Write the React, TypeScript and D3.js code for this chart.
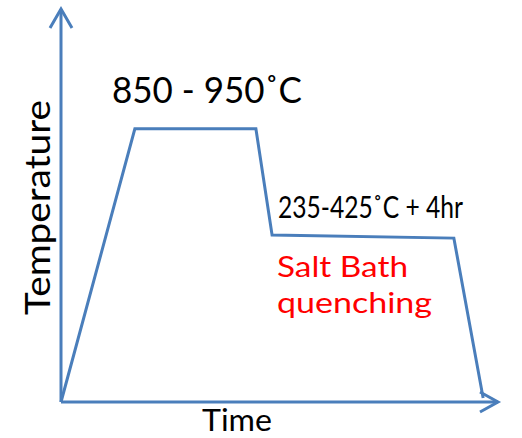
import React from "react";
import * as d3 from "d3";

const profileTime = [0, 16.9, 44.6, 48.3, 89.9, 96.6];
const profileTemp = [0, 69.5, 69.5, 42.5, 41.7, 1];
const axisLabels = { x: "Time", y: "Temperature" };
const annotations = ["850 - 950˚C", "235-425˚C + 4hr"];
const quenchLabel = ["Salt Bath", "quenching"];

const W = 522;
const H = 438;
const BLUE = "#4a7ebb";
const FONT = "Lato, 'Open Sans', sans-serif";

export default function App() {
  const x = d3.scaleLinear().domain([0, 100]).range([61, 498]);
  const y = d3.scaleLinear().domain([0, 100]).range([402, 9]);
  const pts: [number, number][] = profileTime.map((t, i) => [t, profileTemp[i]]);
  const line = d3
    .line<[number, number]>()
    .x((d) => x(d[0]))
    .y((d) => y(d[1]));

  const ox = x(0);
  const oy = y(0);
  const yTop = y(100);
  const xEnd = x(100);

  return (
    <svg
      width={W}
      height={H}
      style={{ position: "absolute", left: 0, top: 0, background: "#fff" }}
    >
      <g stroke={BLUE} strokeWidth={3} fill="none" strokeLinejoin="miter">
        <line x1={ox} y1={oy} x2={ox} y2={yTop} />
        <polyline points={`${ox - 11},${yTop + 19} ${ox},${yTop} ${ox + 11},${yTop + 19}`} />
        <line x1={ox} y1={oy} x2={xEnd} y2={oy} />
        <polyline points={`${xEnd - 18},${oy - 10} ${xEnd},${oy} ${xEnd - 18},${oy + 10}`} />
        <path d={line(pts) || ""} />
      </g>
      <g fontFamily={FONT} fill="#000">
        <text x={112} y={103} fontSize={36} textLength={190} lengthAdjust="spacingAndGlyphs">
          {annotations[0]}
        </text>
        <text x={278} y={218} fontSize={30} textLength={185} lengthAdjust="spacingAndGlyphs">
          {annotations[1]}
        </text>
        <text x={202} y={431} fontSize={31} textLength={70} lengthAdjust="spacingAndGlyphs">
          {axisLabels.x}
        </text>
        <text
          transform="translate(50,315) rotate(-90)"
          x={0}
          y={0}
          fontSize={35}
          textLength={215}
          lengthAdjust="spacingAndGlyphs"
        >
          {axisLabels.y}
        </text>
      </g>
      <g fontFamily={FONT} fill="#ff0000">
        <text x={277} y={277} fontSize={29.5} textLength={131} lengthAdjust="spacingAndGlyphs">
          {quenchLabel[0]}
        </text>
        <text x={277} y={313} fontSize={29.5} textLength={155} lengthAdjust="spacingAndGlyphs">
          {quenchLabel[1]}
        </text>
      </g>
    </svg>
  );
}
